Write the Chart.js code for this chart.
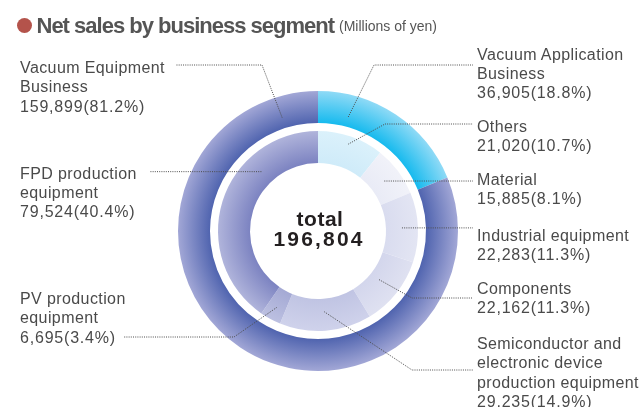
<!DOCTYPE html>
<html>
<head>
<meta charset="utf-8">
<script src="https://cdn.jsdelivr.net/npm/chart.js@4.4.1/dist/chart.umd.min.js"></script>
<style>
  html, body { margin: 0; padding: 0; background: #fff; width: 640px; height: 407px; overflow: hidden; }
  #wrap { position: relative; width: 640px; height: 407px; overflow: hidden; }
  #chart { position: absolute; left: 0; top: 0; }
  .lbl { position: absolute; font-family: "Liberation Sans", Arial, sans-serif; font-size: 16px;
         line-height: 19.3px; color: #4a4a4a; letter-spacing: 0.4px; white-space: nowrap; }
  .lbl .num { letter-spacing: 0.8px; }
  #bullet { position: absolute; left: 17px; top: 18px; width: 15px; height: 15px; border-radius: 50%; background: #b4534b; }
  #title { position: absolute; left: 36.5px; top: 15px; font-family: "Liberation Sans", Arial, sans-serif;
           font-weight: bold; font-size: 22px; line-height: 22px; color: #555; letter-spacing: -1px; white-space: nowrap; }
  #unit { position: absolute; left: 339px; top: 19px; font-family: "Liberation Sans", Arial, sans-serif;
          font-size: 14px; line-height: 14px; color: #555; white-space: nowrap; }
  #center { position: absolute; left: 218px; width: 200px; top: 208.75px; text-align: center;
            font-family: "Liberation Sans", Arial, sans-serif; font-weight: bold; font-size: 21px;
            line-height: 20px; color: #231f20; }
  #center .tot { letter-spacing: 0.5px; padding-left: 4px; }
  #center .sum { letter-spacing: 2.2px; padding-left: 2.2px; }
</style>
</head>
<body>
<div id="wrap">
  <canvas id="chart" width="640" height="407"></canvas>
  <div id="bullet"></div>
  <div id="title">Net sales by business segment</div>
  <div id="unit">(Millions of yen)</div>
  <div id="center"></div>
</div>
<script>
// Business segments (outer ring) and their sub-segments (inner ring), millions of yen
const segmentNames = [['Vacuum Application', 'Business'], ['Vacuum Equipment', 'Business']];
const segmentValues = [36905, 159899];
const segmentShares = ['18.8', '81.2'];

const subNames = [
  ['Others'],
  ['Material'],
  ['Industrial equipment'],
  ['Components'],
  ['Semiconductor and', 'electronic device', 'production equipment'],
  ['PV production', 'equipment'],
  ['FPD production', 'equipment']
];
const subValues = [21020, 15885, 22283, 22162, 29235, 6695, 79524];
const subShares = ['10.7', '8.1', '11.3', '11.3', '14.9', '3.4', '40.4'];

const totalLabel = 'total';
const totalValue = 196804;

// Ring colours: [inner edge, outer edge] of each arc's radial shading
const segmentColors = [['#16baee', '#8fdaf6'], ['#5064af', '#a2a7d6']];
const subColors = [
  ['#cfebf9', '#dbf1fb'],
  ['#e9ebf6', '#f1f2f9'],
  ['#d9dcef', '#e3e5f3'],
  ['#d3d6ec', '#dfe1f1'],
  ['#c0c4e3', '#cfd2eb'],
  ['#a4a9d4', '#bcc0e1'],
  ['#7c83c1', '#b0b4db']
];

// Radial shading across the ring thickness, picked per arc
function radialFill(colors) {
  return function (ctx) {
    const pair = colors[ctx.dataIndex] || colors[0];
    const chart = ctx.chart;
    const area = chart.chartArea;
    if (!area) return pair[0];
    const ctrl = chart.getDatasetMeta(ctx.datasetIndex).controller;
    const cx = (area.left + area.right) / 2;
    const cy = (area.top + area.bottom) / 2;
    const r0 = Math.max(ctrl.innerRadius || 0, 0);
    const r1 = Math.max(ctrl.outerRadius || 1, r0 + 1);
    const g = chart.ctx.createRadialGradient(cx, cy, r0, cx, cy, r1);
    g.addColorStop(0, pair[0]);
    g.addColorStop(1, pair[1]);
    return g;
  };
}

const fmt = v => v.toLocaleString('en-US');

// Label blocks: which ring/arc they describe and where the text sits
const labelLayout = [
  { ds: 0, i: 0, left: 477, top: 44.5 },
  { ds: 0, i: 1, left: 20, top: 58 },
  { ds: 2, i: 0, left: 477, top: 117 },
  { ds: 2, i: 1, left: 477, top: 169.5 },
  { ds: 2, i: 2, left: 477, top: 225.5 },
  { ds: 2, i: 3, left: 477, top: 279 },
  { ds: 2, i: 4, left: 477, top: 334 },
  { ds: 2, i: 5, left: 20, top: 289 },
  { ds: 2, i: 6, left: 20, top: 163.5 }
];

// Leader lines: anchor inside an arc (fraction along the arc, radius in px), then elbow/end points
const leaders = [
  { ds: 0, i: 0, t: 0.22, r: 118, pts: [[374, 65], [473, 65]] },
  { ds: 0, i: 1, t: 0.94, r: 119, pts: [[262, 65], [176, 65]] },
  { ds: 2, i: 0, t: 0.5, r: 92, pts: [[385, 124], [473, 124]] },
  { ds: 2, i: 1, t: 0.5, r: 83, pts: [[473, null]] },
  { ds: 2, i: 2, t: 0.5, r: 84, pts: [[473, null]] },
  { ds: 2, i: 3, t: 0.5, r: 78, pts: [[412, 298], [473, 298]] },
  { ds: 2, i: 4, t: 0.5, r: 81, pts: [[412, 370], [473, 370]] },
  { ds: 2, i: 5, t: 0.5, r: 87, pts: [[234, 337], [123, 337]] },
  { ds: 2, i: 6, t: 0.70, r: 82, pts: [[150, null]] }
];

const leaderPlugin = {
  id: 'leaders',
  afterDatasetsDraw(chart) {
    const c = chart.ctx;
    c.save();
    c.strokeStyle = '#4d4d4d';
    c.lineWidth = 1;
    c.setLineDash([1, 1.2]);
    leaders.forEach(l => {
      const arc = chart.getDatasetMeta(l.ds).data[l.i];
      const p = arc.getProps(['x', 'y', 'startAngle', 'endAngle'], true);
      const a = p.startAngle + (p.endAngle - p.startAngle) * l.t;
      const px = p.x + Math.cos(a) * l.r;
      const py = p.y + Math.sin(a) * l.r;
      c.beginPath();
      c.moveTo(px, py);
      l.pts.forEach(pt => c.lineTo(pt[0], pt[1] === null ? py : pt[1]));
      c.stroke();
    });
    c.restore();
  }
};

new Chart(document.getElementById('chart'), {
  type: 'doughnut',
  data: {
    labels: subNames.map(n => n.join(' ')),
    datasets: [
      { label: 'segments', data: segmentValues, weight: 32,
        backgroundColor: radialFill(segmentColors) },
      { label: 'gap', data: [1], weight: 8, backgroundColor: 'rgba(0,0,0,0)' },
      { label: 'sub-segments', data: subValues, weight: 32,
        backgroundColor: radialFill(subColors) }
    ]
  },
  options: {
    responsive: false,
    animation: false,
    events: [],
    radius: 140,
    cutout: '48.57%',
    borderWidth: 0,
    hoverBorderWidth: 0,
    layout: { padding: { left: 0, right: 4, top: 55, bottom: 0 } },
    plugins: { legend: { display: false }, tooltip: { enabled: false } }
  },
  plugins: [leaderPlugin]
});

// Text blocks
const wrap = document.getElementById('wrap');
labelLayout.forEach(L => {
  const names = L.ds === 0 ? segmentNames[L.i] : subNames[L.i];
  const val = L.ds === 0 ? segmentValues[L.i] : subValues[L.i];
  const share = L.ds === 0 ? segmentShares[L.i] : subShares[L.i];
  const d = document.createElement('div');
  d.className = 'lbl';
  d.style.left = L.left + 'px';
  d.style.top = L.top + 'px';
  names.forEach(n => {
    const s = document.createElement('div');
    s.textContent = n;
    d.appendChild(s);
  });
  const s = document.createElement('div');
  s.className = 'num';
  s.textContent = fmt(val) + '(' + share + '%)';
  d.appendChild(s);
  wrap.appendChild(d);
});

const center = document.getElementById('center');
const t1 = document.createElement('div'); t1.className = 'tot'; t1.textContent = totalLabel;
const t2 = document.createElement('div'); t2.className = 'sum'; t2.textContent = fmt(totalValue);
center.appendChild(t1); center.appendChild(t2);
</script>
</body>
</html>
